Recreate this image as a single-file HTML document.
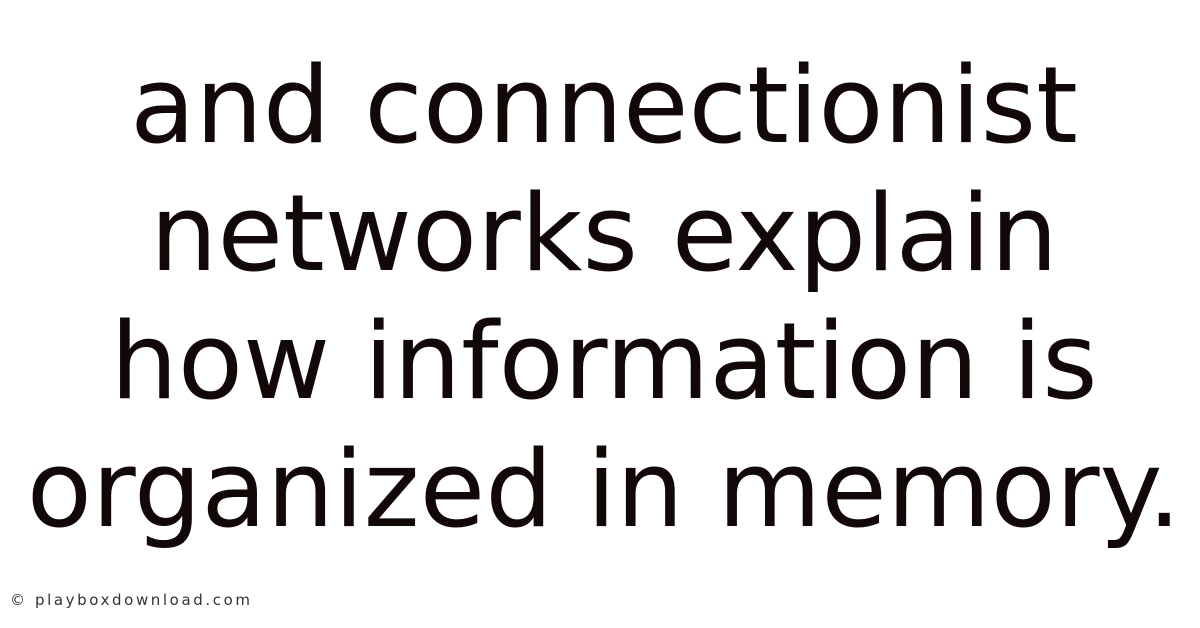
<!DOCTYPE html>
<html><head><meta charset="utf-8"><style>
html,body{margin:0;padding:0;background:#fff;width:1200px;height:628px;overflow:hidden;position:relative}
.t{position:absolute;left:4px;top:42px;width:1200px;text-align:center;font-family:"DejaVu Sans","Liberation Sans",sans-serif;font-size:106.5px;line-height:128px;color:#120808}
.w{position:absolute;left:10px;top:591px;font-family:"DejaVu Sans","Liberation Sans",sans-serif;font-size:15px;color:#333;letter-spacing:2.6px}
</style></head><body>
<div class="t">and connectionist<br>networks explain<br>how information is<br>organized in memory.</div>
<div class="w">© playboxdownload.com</div>
</body></html>
